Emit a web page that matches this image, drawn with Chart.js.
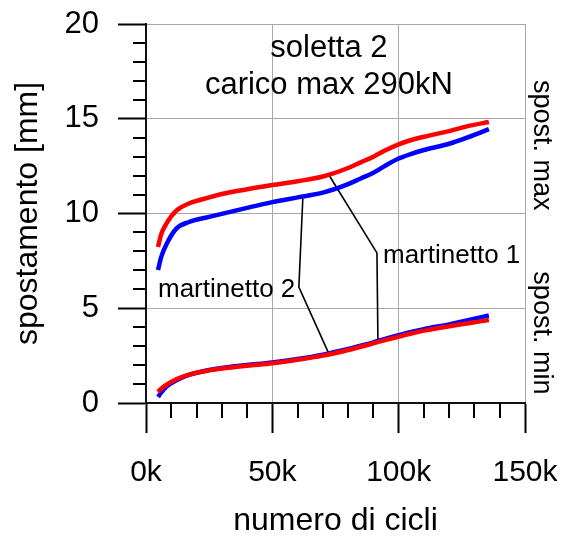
<!DOCTYPE html>
<html>
<head>
<meta charset="utf-8">
<script src="https://cdn.jsdelivr.net/npm/chart.js@4"></script>
<style>
  html, body { margin: 0; padding: 0; background: #fff; }
  canvas { display: block; }
</style>
</head>
<body>
<canvas id="myChart" width="564" height="543"></canvas>
<script>
// numero di cicli (asse x)
const cicli = [4750, 6000, 8000, 12000, 17000, 25000, 30000, 40000, 50000, 60000, 70000, 80000, 85000, 90000, 95000, 100000, 105000, 110000, 120000, 127000, 135700];

// spostamento massimo [mm]
const maxMartinetto1 = [8.23, 8.9, 9.45, 10.15, 10.53, 10.85, 11.03, 11.28, 11.5, 11.7, 11.95, 12.4, 12.7, 13.0, 13.35, 13.65, 13.88, 14.05, 14.35, 14.6, 14.83];
const maxMartinetto2 = [7.02, 7.7, 8.35, 9.2, 9.55, 9.82, 9.98, 10.3, 10.6, 10.85, 11.1, 11.55, 11.85, 12.15, 12.55, 12.9, 13.15, 13.35, 13.68, 14.0, 14.45];

// spostamento minimo [mm]
const minMartinetto1 = [0.58, 0.75, 0.95, 1.25, 1.5, 1.72, 1.82, 1.97, 2.1, 2.28, 2.5, 2.8, 2.97, 3.15, 3.33, 3.5, 3.67, 3.82, 4.05, 4.2, 4.38];
const minMartinetto2 = [0.32, 0.55, 0.85, 1.2, 1.48, 1.74, 1.85, 2.0, 2.14, 2.32, 2.55, 2.85, 3.02, 3.2, 3.4, 3.58, 3.75, 3.9, 4.15, 4.35, 4.62];

// linee di richiamo delle etichette (cicli, mm)
const richiamo1X = [72400, 91400, 91800];
const richiamo1Y = [12.03, 7.92, 3.22];
const richiamo2X = [62100, 60500, 72400];
const richiamo2Y = [10.9, 6.12, 2.59];

// tacche
const xTickValues = [0, 50000, 100000, 150000];
const xTickLabels = ['0k', '50k', '100k', '150k'];
const yTickValues = [0, 5, 10, 15, 20];
const yTickLabels = ['0', '5', '10', '15', '20'];
const xMinorTicks = [10000, 20000, 30000, 40000, 60000, 70000, 80000, 90000, 110000, 120000, 130000, 140000];
const yMinorTicks = [1, 2, 3, 4, 6, 7, 8, 9, 11, 12, 13, 14, 16, 17, 18, 19];

const FONT = "'Liberation Sans', Arial, sans-serif";

function punti(xs, ys) {
  return xs.map((x, i) => ({ x: x, y: ys[i] }));
}

// tacche secondarie + testi dentro al grafico
const extraPlugin = {
  id: 'extra',
  afterDraw(chart) {
    const ctx = chart.ctx;
    const xs = chart.scales.x;
    const ys = chart.scales.y;
    const area = chart.chartArea;

    ctx.save();
    ctx.strokeStyle = '#000';
    ctx.lineWidth = 2;
    ctx.beginPath();
    xMinorTicks.forEach(v => {
      const px = Math.round(xs.getPixelForValue(v));
      ctx.moveTo(px, area.bottom);
      ctx.lineTo(px, area.bottom + 15);
    });
    yMinorTicks.forEach(v => {
      const py = Math.round(ys.getPixelForValue(v));
      ctx.moveTo(area.left - 13, py);
      ctx.lineTo(area.left, py);
    });
    ctx.stroke();

    ctx.fillStyle = '#000';
    // titolo
    ctx.font = '31px ' + FONT;
    ctx.textAlign = 'center';
    ctx.textBaseline = 'alphabetic';
    ctx.fillText('soletta 2', xs.getPixelForValue(72400), ys.getPixelForValue(18.26));
    ctx.fillText('carico max 290kN', xs.getPixelForValue(72400), ys.getPixelForValue(16.31));

    // etichette martinetti
    ctx.font = '26px ' + FONT;
    ctx.textAlign = 'left';
    ctx.fillText('martinetto 1', xs.getPixelForValue(93800), ys.getPixelForValue(7.39));
    ctx.fillText('martinetto 2', xs.getPixelForValue(4750), ys.getPixelForValue(5.59));

    // testi a destra, ruotati
    ctx.font = '27px ' + FONT;
    ctx.textAlign = 'center';
    [['spost. max', 13.6], ['spost. min', 3.7]].forEach(([t, v]) => {
      ctx.save();
      ctx.translate(area.right + 9, ys.getPixelForValue(v));
      ctx.rotate(Math.PI / 2);
      ctx.fillText(t, 0, 0);
      ctx.restore();
    });
    ctx.restore();
  }
};

const lineaCurva = (label, data, color) => ({
  label: label,
  data: data,
  borderColor: color,
  backgroundColor: color,
  borderWidth: 4.5,
  pointRadius: 0,
  fill: false,
  cubicInterpolationMode: 'monotone',
});

const lineaRichiamo = (data) => ({
  label: 'richiamo',
  data: data,
  borderColor: '#000',
  borderWidth: 1.6,
  pointRadius: 0,
  fill: false,
  tension: 0,
});

const chartArea = document.getElementById('myChart').getContext('2d');
const myChart = new Chart(chartArea, {
  type: 'line',
  data: {
    datasets: [
      lineaCurva('martinetto 1 max', punti(cicli, maxMartinetto1), '#ff0000'),
      lineaCurva('martinetto 1 min', punti(cicli, minMartinetto1), '#ff0000'),
      lineaCurva('martinetto 2 max', punti(cicli, maxMartinetto2), '#0000ff'),
      lineaCurva('martinetto 2 min', punti(cicli, minMartinetto2), '#0000ff'),
      lineaRichiamo(punti(richiamo1X, richiamo1Y)),
      lineaRichiamo(punti(richiamo2X, richiamo2Y)),
    ]
  },
  options: {
    responsive: false,
    devicePixelRatio: 1,
    animation: false,
    layout: { padding: { top: 24, right: 39, left: 0, bottom: 0 } },
    plugins: {
      legend: { display: false },
      tooltip: { enabled: false },
    },
    scales: {
      x: {
        type: 'linear',
        min: 0,
        max: 150000,
        afterFit: (scale) => {
          scale.height = 140;
          scale.paddingLeft = 0;
          scale.paddingRight = 0;
        },
        afterBuildTicks: (scale) => { scale.ticks = xTickValues.map(v => ({ value: v })); },
        ticks: {
          autoSkip: false,
          maxRotation: 0,
          padding: 22,
          color: '#000',
          font: { family: FONT, size: 30 },
          callback: (v) => xTickLabels[xTickValues.indexOf(v)],
        },
        grid: { color: '#a8a8a8', lineWidth: 1, tickLength: 30, tickColor: '#000', tickWidth: 2 },
        border: { display: true, color: '#111', width: 2 },
        title: {
          display: true,
          text: 'numero di cicli',
          color: '#000',
          font: { family: FONT, size: 32, lineHeight: 1 },
          padding: { top: 0, bottom: 6 },
        },
      },
      y: {
        min: 0,
        max: 20,
        afterFit: (scale) => {
          scale.width = 146;
          scale.paddingTop = 0;
          scale.paddingBottom = 0;
        },
        afterBuildTicks: (scale) => { scale.ticks = yTickValues.map(v => ({ value: v })); },
        ticks: {
          padding: 19,
          color: '#000',
          font: { family: FONT, size: 31 },
          callback: (v) => yTickLabels[yTickValues.indexOf(v)],
        },
        grid: { color: '#a8a8a8', lineWidth: 1, tickLength: 28, tickColor: '#000', tickWidth: 2 },
        border: { display: true, color: '#111', width: 2 },
        title: {
          display: true,
          text: 'spostamento [mm]',
          color: '#000',
          font: { family: FONT, size: 32, lineHeight: 1 },
          padding: { top: 12, bottom: 0 },
        },
      }
    }
  },
  plugins: [extraPlugin]
});
</script>
</body>
</html>
